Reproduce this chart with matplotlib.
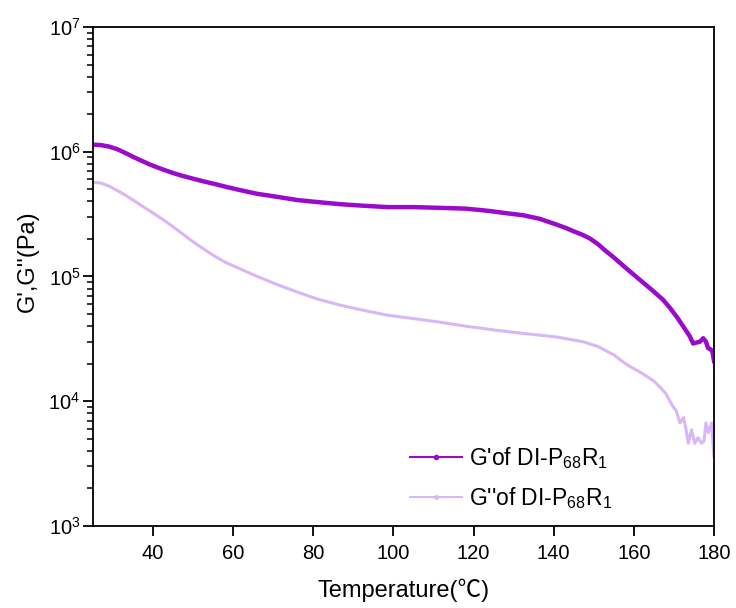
import matplotlib
matplotlib.use("Agg")
import matplotlib.pyplot as plt
from matplotlib.lines import Line2D
from matplotlib.ticker import LogLocator, FixedLocator

plt.rcParams['font.family'] = ['Liberation Sans', 'Noto Sans CJK SC', 'DejaVu Sans']
plt.rcParams['mathtext.fontset'] = 'custom'
plt.rcParams['mathtext.rm'] = 'Liberation Sans'
plt.rcParams['mathtext.it'] = 'Liberation Sans:italic'
plt.rcParams['mathtext.default'] = 'regular'

# storage modulus G' vs temperature
temp_g1 = [25, 27, 29, 31, 33, 35, 37, 39, 41, 43, 45, 47, 49, 52, 55, 58, 62, 66,
           71, 76, 81, 86.6, 92, 98.4, 105, 111.6, 118, 124, 128, 132.3, 136.5,
           140.8, 143, 145, 147, 149, 151, 153, 155, 158, 161.5, 164.5, 167.3,
           169, 170.8, 172.5, 174, 174.8, 175.5, 176.5, 177.3, 178, 178.5, 179.2,
           179.6, 180]
g_storage = [1.14e6, 1.13e6, 1.1e6, 1.05e6, 9.8e5, 9.1e5, 8.5e5, 7.95e5, 7.5e5,
             7.1e5, 6.75e5, 6.45e5, 6.2e5, 5.85e5, 5.55e5, 5.25e5, 4.9e5, 4.6e5,
             4.35e5, 4.1e5, 3.95e5, 3.8e5, 3.7e5, 3.6e5, 3.6e5, 3.55e5, 3.5e5,
             3.35e5, 3.22e5, 3.1e5, 2.9e5, 2.6e5, 2.45e5, 2.3e5, 2.17e5, 2.02e5,
             1.82e5, 1.6e5, 1.42e5, 1.17e5, 9.4e4, 7.8e4, 6.5e4, 5.6e4, 4.7e4,
             3.9e4, 3.3e4, 2.9e4, 2.95e4, 3.0e4, 3.2e4, 3.0e4, 2.67e4, 2.6e4,
             2.5e4, 2.1e4]

# loss modulus G'' vs temperature
temp_g2 = [25, 27, 29, 31, 33, 35, 37, 39, 41, 43, 45, 47, 49, 51, 53, 55, 58, 62,
           66, 71, 76, 81, 86.6, 92, 98.4, 105, 111.6, 118, 125.8, 132.3, 140.8,
           147.3, 151, 155, 157, 159, 161, 163, 165, 166.5, 168, 169, 169.8, 170.5,
           171.5, 172.4, 173, 173.6, 174.4, 175.2, 176, 176.9, 177.5, 178, 178.6,
           179.4, 179.8, 180]
g_loss = [5.7e5, 5.6e5, 5.3e5, 4.9e5, 4.5e5, 4.1e5, 3.72e5, 3.38e5, 3.07e5, 2.78e5,
          2.5e5, 2.24e5, 2.0e5, 1.8e5, 1.63e5, 1.48e5, 1.3e5, 1.14e5, 1.0e5,
          8.6e4, 7.5e4, 6.6e4, 5.9e4, 5.4e4, 4.9e4, 4.6e4, 4.3e4, 4.0e4, 3.7e4,
          3.5e4, 3.27e4, 3.0e4, 2.75e4, 2.35e4, 2.1e4, 1.9e4, 1.75e4, 1.6e4,
          1.45e4, 1.3e4, 1.15e4, 1.0e4, 9.0e3, 8.5e3, 6.7e3, 7.4e3, 6.0e3, 4.6e3,
          5.9e3, 4.6e3, 5.1e3, 4.6e3, 4.8e3, 6.7e3, 5.6e3, 6.7e3, 4.3e3, 3.6e3]

x_ticks = [40, 60, 80, 100, 120, 140, 160, 180]

c_storage = '#9A0ACD'
c_loss = '#D9B6F7'

fig = plt.figure(figsize=(7.36, 6.08), dpi=100)
ax = fig.add_axes([0.1264, 0.1349, 0.8437, 0.8207])

ax.plot(temp_g2, g_loss, color=c_loss, lw=2.2, solid_joinstyle='round')
ax.plot(temp_g1, g_storage, color=c_storage, lw=3.2, solid_joinstyle='round')

ax.set_yscale('log')
ax.set_xlim(25, 180)
ax.set_ylim(1e3, 1e7)
ax.xaxis.set_major_locator(FixedLocator(x_ticks))
ax.yaxis.set_major_locator(LogLocator(base=10, numticks=10))
ax.yaxis.set_minor_locator(LogLocator(base=10, subs=range(2, 10), numticks=10))

for s in ax.spines.values():
    s.set_linewidth(1.3)
ax.tick_params(axis='both', which='major', direction='out', length=7, width=1.3,
               labelsize=14.5, top=False, right=False)
ax.tick_params(axis='x', which='major', pad=6)
ax.tick_params(axis='y', which='major', pad=2)
ax.tick_params(axis='y', which='minor', direction='out', length=4, width=1.1)
ax.tick_params(axis='x', which='minor', bottom=False)

ax.set_xlabel('Temperature(℃)', fontsize=17, labelpad=11)
ax.set_ylabel("G',G''(Pa)", fontsize=17)
ax.yaxis.set_label_coords(-0.088, 0.53)

handles = [
    Line2D([], [], color=c_storage, lw=1.5, marker='o', markersize=3),
    Line2D([], [], color=c_loss, lw=1.5, marker='o', markersize=2.5),
]
labels = ["G'of DI-P$_{68}$R$_{1}$", "G''of DI-P$_{68}$R$_{1}$"]
ax.legend(handles, labels, loc='center left', frameon=False, fontsize=16.5,
          handlelength=2.3, handletextpad=0.3, labelspacing=0.6,
          borderpad=0, borderaxespad=0, bbox_to_anchor=(0.51, 0.096))

fig.savefig('out.png', dpi=100)
